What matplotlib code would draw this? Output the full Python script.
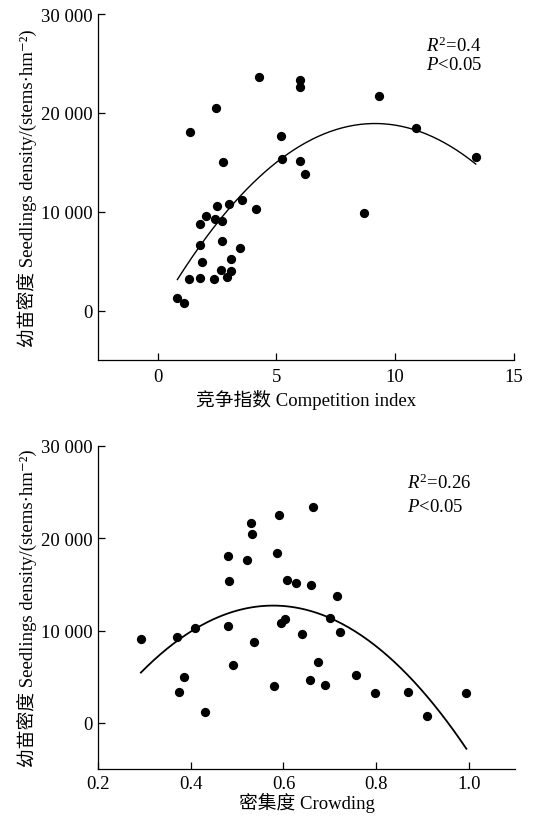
import numpy as np
import matplotlib
matplotlib.use("Agg")
import matplotlib.pyplot as plt

plt.rcParams['font.family'] = ['Liberation Serif', 'Noto Sans CJK SC', 'DejaVu Serif']
plt.rcParams['mathtext.fontset'] = 'custom'
plt.rcParams['mathtext.rm'] = 'Liberation Serif'
plt.rcParams['mathtext.it'] = 'Liberation Serif:italic'

# ---- Panel 1: competition index vs seedling density ----
ci_x = [4.27, 6.0, 6.0, 2.47, 9.3, 1.35, 5.18, 10.86, 2.74, 5.25, 6.0, 6.19, 13.39,
        2.50, 3.0, 3.55, 4.13, 8.69, 2.05, 2.41, 2.71, 1.80, 2.71, 3.45, 1.80, 3.07,
        1.85, 2.65, 3.07, 1.32, 1.77, 2.38, 2.92, 0.83, 1.11]
ci_y = [23620, 23350, 22580, 20450, 21660, 18040, 17630, 18450, 15000, 15370, 15100, 13780, 15500,
        10530, 10800, 11170, 10290, 9890, 9610, 9310, 9070, 8800, 7010, 6300, 6600, 5220,
        4940, 4130, 4000, 3190, 3320, 3190, 3390, 1220, 780]
ci_fit = [-228.0, 9.15, 18920.0]       # a, vertex x, vertex y
ci_fit_range = [0.83, 13.39]
ci_xticks = [0, 5, 10, 15]
ci_xticklabels = ['0', '5', '10', '15']

# ---- Panel 2: crowding vs seedling density ----
cr_x = [0.663, 0.590, 0.530, 0.532, 0.480, 0.522, 0.586, 0.482, 0.608, 0.628, 0.660, 0.716,
        0.292, 0.370, 0.408, 0.481, 0.536, 0.594, 0.604, 0.641, 0.701, 0.721, 0.674, 0.491,
        0.386, 0.375, 0.430, 0.579, 0.657, 0.689, 0.757, 0.797, 0.870, 0.910, 0.994]
cr_y = [23340, 22540, 21610, 20420, 18040, 17600, 18430, 15370, 15480, 15120, 14940, 13780,
        9090, 9340, 10250, 10530, 8800, 10790, 11220, 9600, 11330, 9850, 6600, 6240,
        4940, 3320, 1190, 4000, 4620, 4110, 5190, 3210, 3390, 790, 3210]
cr_fit = [-89041.0, 102860.0, -17001.0]   # quadratic coefficients
cr_fit_range = [0.292, 0.995]
cr_xticks = [0.2, 0.4, 0.6, 0.8, 1.0]
cr_xticklabels = ['0.2', '0.4', '0.6', '0.8', '1.0']

yticks = [0, 10000, 20000, 30000]
yticklabels = ['0', '10 000', '20 000', '30 000']
ylabel = '幼苗密度 Seedlings density/(stems·hm⁻²)'

fig = plt.figure(figsize=(5.35, 8.2), dpi=100)
ax1 = fig.add_axes([0.1837, 0.5598, 0.7770, 0.4219])
ax2 = fig.add_axes([0.1837, 0.0610, 0.7789, 0.3939])

FS = 13.5

def style(ax, xticks, xticklabels, xlim, xpad):
    for s in ['top', 'right']:
        ax.spines[s].set_visible(False)
    for s in ['left', 'bottom']:
        ax.spines[s].set_linewidth(0.9)
    ax.set_ylim(-5000, 30000)
    ax.set_xlim(*xlim)
    ax.set_yticks(yticks)
    ax.set_yticklabels(yticklabels)
    ax.set_xticks(xticks)
    ax.set_xticklabels(xticklabels)
    ax.tick_params(direction='in', length=5, width=0.9, labelsize=FS, pad=4)
    ax.tick_params(axis='x', pad=xpad)
    ax.set_ylabel(ylabel, fontsize=FS, labelpad=2)

ax1.scatter(ci_x, ci_y, s=32, color='black', zorder=3)
xx = np.linspace(ci_fit_range[0], ci_fit_range[1], 200)
ax1.plot(xx, ci_fit[0] * (xx - ci_fit[1]) ** 2 + ci_fit[2], color='black', lw=1.0)
style(ax1, ci_xticks, ci_xticklabels, (-2.5, 15), 6)
ax1.set_xlabel('竞争指数 Competition index', fontsize=FS, labelpad=3)
ax1.text(0.789, 0.910, '$R^2$=0.4', transform=ax1.transAxes, fontsize=FS, va='center')
ax1.text(0.789, 0.855, '$P$<0.05', transform=ax1.transAxes, fontsize=FS, va='center')

ax2.scatter(cr_x, cr_y, s=32, color='black', zorder=3)
xx2 = np.linspace(cr_fit_range[0], cr_fit_range[1], 200)
ax2.plot(xx2, np.polyval(cr_fit, xx2), color='black', lw=1.3)
style(ax2, cr_xticks, cr_xticklabels, (0.2, 1.1), 4)
ax2.set_xlabel('密集度 Crowding', fontsize=FS, labelpad=0)
ax2.text(0.741, 0.8885, '$R^2$=0.26', transform=ax2.transAxes, fontsize=FS, va='center')
ax2.text(0.741, 0.814, '$P$<0.05', transform=ax2.transAxes, fontsize=FS, va='center')

fig.savefig('out.png', dpi=100)
